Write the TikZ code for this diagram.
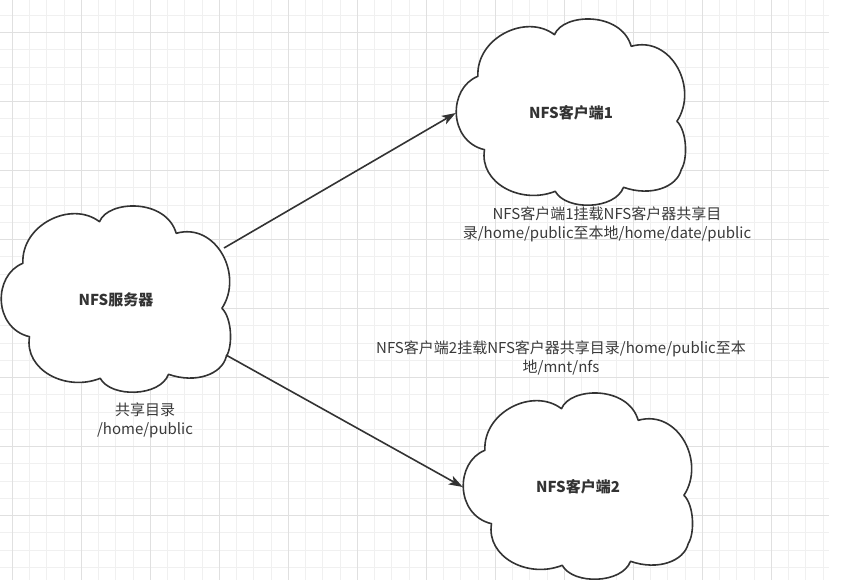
\documentclass[tikz,border=0pt]{standalone}
\usepackage{fontspec}
\setmainfont{Noto Sans CJK SC}
\usepackage{xcolor}
\usetikzlibrary{arrows.meta, backgrounds}

\definecolor{gridlight}{HTML}{F0F0F0}
\definecolor{griddark}{HTML}{E0E0E0}
\definecolor{linegrey}{HTML}{333333}
\definecolor{textgrey}{HTML}{3A3A3A}

\begin{document}
\begin{tikzpicture}[x=1pt, y=-1pt,
    every node/.style={font=\fontsize{15}{19}\selectfont},
    cloudbox/.style={minimum width=230pt, minimum height=185pt, inner sep=0pt,
        text=linegrey, font=\fontsize{15}{19}\selectfont\bfseries},
    cloudline/.style={draw=linegrey, line width=1.6pt, fill=white, line join=round},
    note/.style={align=center, text=textgrey, inner sep=0pt},
    link/.style={draw=linegrey, line width=1.6pt, ->},
    >={Stealth[length=14pt, width=9.5pt, inset=3.5pt]}]
                    \useasboundingbox (0, 0) rectangle (859, 580);

                    \node[cloudbox] (server) at (116, 300) {NFS服务器};
                    \node[cloudbox] (client1) at (571, 113) {NFS客户端1};
                    \node[cloudbox] (client2) at (578, 487) {NFS客户端2};

                    \node[note] (serverdir) at (145, 420) {共享目录\\/home/public};
                    \node[note] (mount1) at (607, 224.5)
                        {NFS客户端1挂载NFS客户器共享目\\录/home/public至本地/home/date/public};
                    \node[note] (mount2) at (561, 357.5)
                        {NFS客户端2挂载NFS客户器共享目录/home/public至本\\地/mnt/nfs};

                    \draw[link] ([shift={(108, -52)}]server.center) -- (client1.west);
                    \draw[link] ([shift={(110, 55)}]server.center) -- (client2.west);

                    \begin{scope}[on background layer]
                        % grid
                        \begin{scope}
                            \clip (0, 0) rectangle (829, 580);
                            \foreach \k in {0,...,47} {
                                \draw[gridlight, line width=1pt]
                                (12.3 + 17.25*\k, 0) -- (12.3 + 17.25*\k, 580);
                            }
                            \foreach \k in {1,...,33} {
                                \draw[gridlight, line width=1pt]
                                (0, -1.8 + 17.25*\k) -- (829, -1.8 + 17.25*\k);
                            }
                            \foreach \k in {0,4,...,44} {
                                \draw[griddark, line width=1pt]
                                (12.3 + 17.25*\k, 0) -- (12.3 + 17.25*\k, 580);
                            }
                            \foreach \k in {2,6,...,30} {
                                \draw[griddark, line width=1pt]
                                (0, -1.8 + 17.25*\k) -- (829, -1.8 + 17.25*\k);
                            }
                        \end{scope}

                        % cloud outlines round the three nodes
                        \foreach \c in {server, client1, client2} {
                            \begin{scope}[shift={(\c.center)}]
                                \draw[cloudline]
                                (-86.5, 36.7) .. controls (-123, 28) and (-123, -25) .. (-93.1, -36.7)
                                .. controls (-95, -75) and (-45, -100) .. (-16.5, -78.3)
                                .. controls (-8, -100) and (50, -102) .. (60.2, -66.7)
                                .. controls (100, -78) and (128, -25) .. (105.9, 8.3)
                                .. controls (116, 18) and (117, 46) .. (110.2, 56.7)
                                .. controls (106, 74) and (80, 84) .. (52.5, 74.3)
                                .. controls (44, 97) and (-5, 98) .. (-15.8, 78.3)
                                .. controls (-50, 92) and (-92, 70) .. (-86.5, 36.7)
                                -- cycle;
                            \end{scope}
                        }
                    \end{scope}
                \end{tikzpicture}
\end{document}
